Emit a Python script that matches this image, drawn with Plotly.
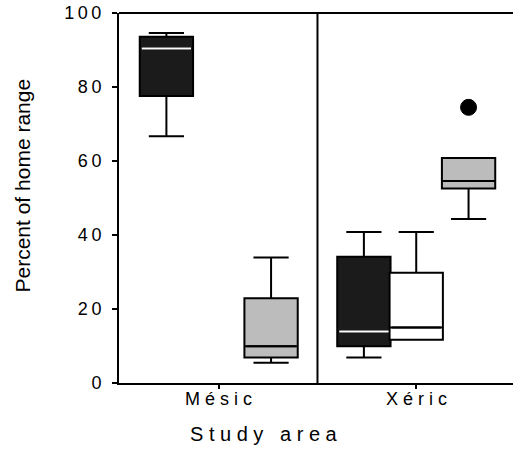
import plotly.graph_objects as go

categories = ["M é s i c", "X é r i c"]
series_names = ["Dark", "White", "Gray"]
series_fill = ["#1b1b1b", "#ffffff", "#bcbcbc"]
series_median_color = ["#ffffff", "#000000", "#000000"]

# stats per series, per category: [lowerfence, q1, median, q3, upperfence]
dark_stats = [[66.7, 77.6, 90.4, 93.6, 94.6], [6.9, 9.9, 13.9, 34.1, 40.8]]
white_stats = [None, [11.7, 11.7, 15.0, 29.8, 40.8]]
gray_stats = [[5.5, 6.9, 9.9, 22.9, 33.9], [44.3, 52.6, 54.6, 60.8, 60.8]]
gray_outliers = [[], [74.5]]

all_stats = [dark_stats, white_stats, gray_stats]
outliers = [[[], []], [[], []], gray_outliers]

x_title = "S t u d y \u00a0 a r e a"
y_title = "Percent of home range"

offset = 0.265
box_w = 0.27

fig = go.Figure()
for k, stats in enumerate(all_stats):
    for ci, s in enumerate(stats):
        if s is None:
            continue
        pos = ci + (k - 1) * offset
        fig.add_trace(go.Box(
            x=[pos], lowerfence=[s[0]], q1=[s[1]], median=[s[2]], q3=[s[3]], upperfence=[s[4]],
            width=box_w, whiskerwidth=0.66, fillcolor=series_fill[k],
            line=dict(color="#000000", width=2), name=series_names[k], showlegend=False,
            hoverinfo="skip"))
        fig.add_trace(go.Scatter(
            x=[pos - box_w / 2 + 0.01, pos + box_w / 2 - 0.01], y=[s[2], s[2]], mode="lines",
            line=dict(color=series_median_color[k], width=2), showlegend=False, hoverinfo="skip"))
        if outliers[k][ci]:
            fig.add_trace(go.Scatter(
                x=[pos] * len(outliers[k][ci]), y=outliers[k][ci], mode="markers",
                marker=dict(symbol="circle", size=16, color="#000000",
                            line=dict(color="#000000", width=1)),
                showlegend=False, hoverinfo="skip"))

font_family = "Liberation Sans, Arial, sans-serif"
ytickvals = [0, 20, 40, 60, 80, 100]
yticktext = ["0", "2\u20090", "4\u20090", "6\u20090", "8\u20090", "1\u20090\u20090"]

cat_annotations = [
    dict(text=c, xref="x", yref="paper", x=i, y=-0.043, xanchor="center", yanchor="middle",
         showarrow=False, font=dict(size=18))
    for i, c in enumerate(categories)
]

fig.update_layout(
    width=513, height=451,
    margin=dict(l=119, r=0, t=13, b=68),
    paper_bgcolor="white", plot_bgcolor="white",
    font=dict(family=font_family, color="#000000"),
    xaxis=dict(
        range=[-0.505, 1.49], tickvals=[0, 1], showticklabels=False,
        ticks="outside", ticklen=4, tickwidth=1.5, tickcolor="#000",
        showgrid=False, zeroline=False,
        showline=True, linecolor="#000", linewidth=2, automargin=False,
    ),
    yaxis=dict(
        range=[0, 100], tickvals=ytickvals, ticktext=yticktext,
        ticks="outside", ticklen=5, tickwidth=1.5, tickcolor="#000",
        tickfont=dict(size=18), showgrid=False, zeroline=False,
        showline=True, linecolor="#000", linewidth=2, automargin=False,
        ticklabelstandoff=7, ticklabeloverflow="allow",
    ),
    shapes=[
        dict(type="line", xref="paper", yref="paper", x0=0, x1=1, y0=1, y1=1,
             line=dict(color="#000", width=2)),
        dict(type="line", xref="x", yref="paper", x0=0.5, x1=0.5, y0=0, y1=1,
             line=dict(color="#000", width=2)),
    ],
    annotations=cat_annotations + [
        dict(text=x_title, xref="paper", yref="paper", x=0.367, y=-0.138,
             xanchor="center", yanchor="middle", showarrow=False, font=dict(size=20)),
        dict(text=y_title, xref="paper", yref="paper", x=-0.245, y=0.535, textangle=-90,
             xanchor="center", yanchor="middle", showarrow=False, font=dict(size=21)),
    ],
)

fig.write_html("out.html", config={"displayModeBar": False},
               post_script="document.body.style.margin='0';")
